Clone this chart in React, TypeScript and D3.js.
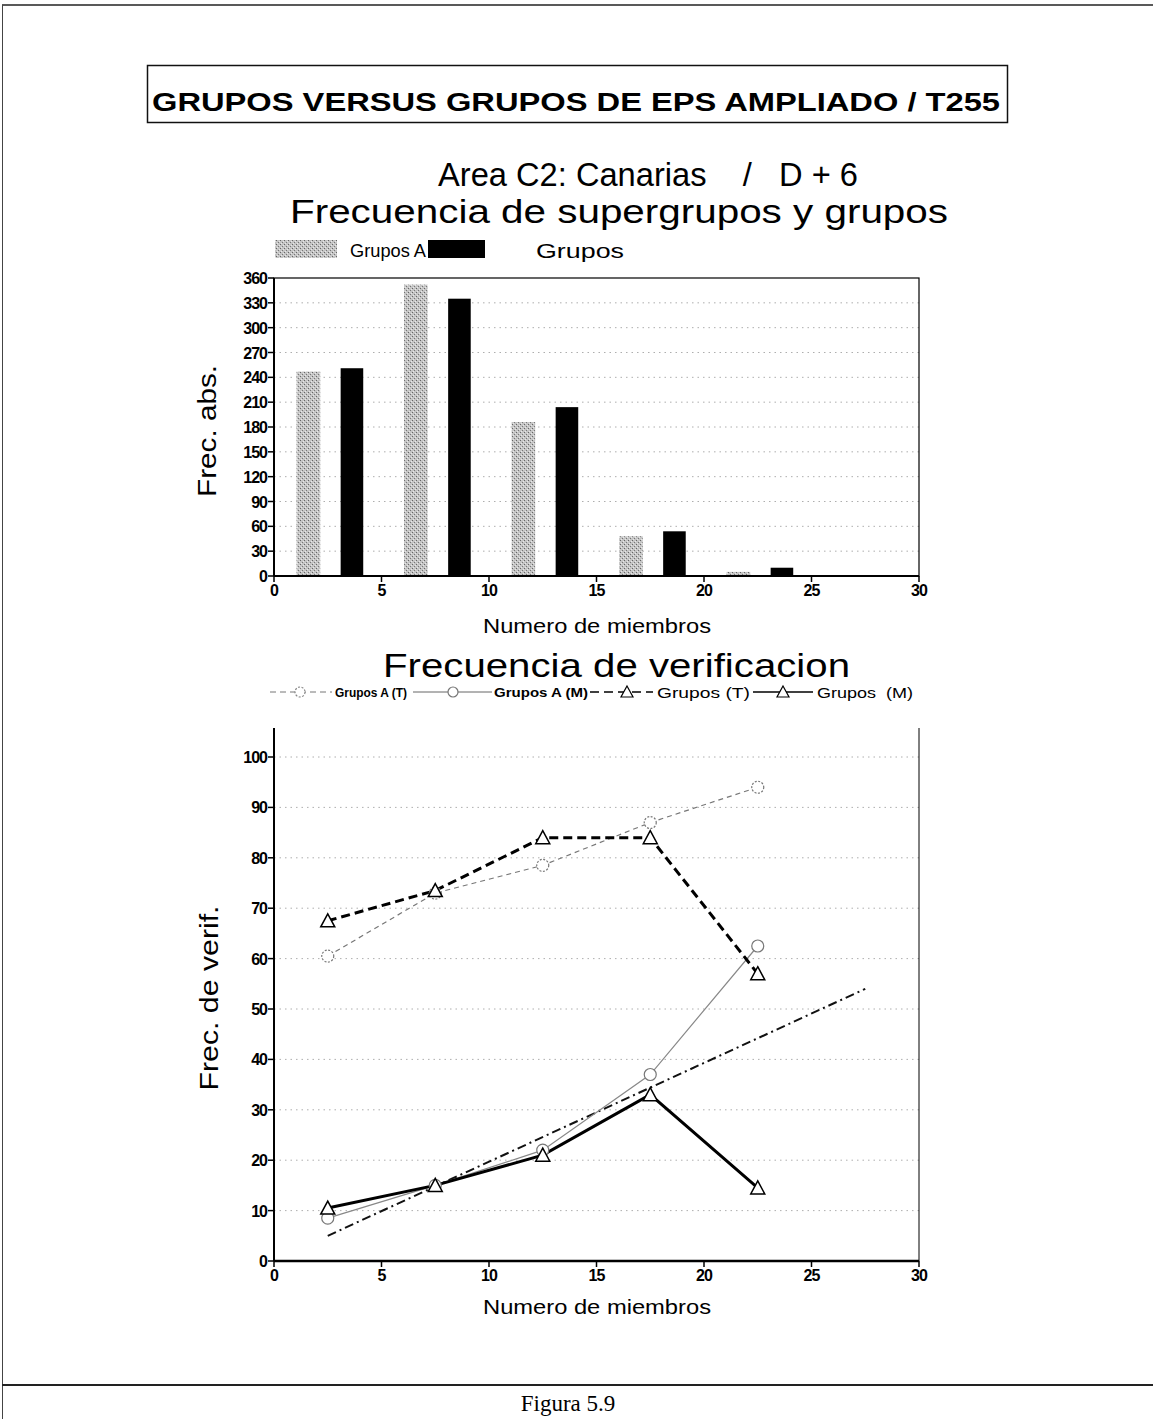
import React from "react";
import * as d3 from "d3";

const barBins = [2.5, 7.5, 12.5, 17.5, 22.5, 27.5];
const gruposA = [247, 352, 186, 48, 5, 0];
const grupos = [251, 335, 204, 54, 10, 0];
const barYTicks = [0, 30, 60, 90, 120, 150, 180, 210, 240, 270, 300, 330, 360];
const xTicks = [0, 5, 10, 15, 20, 25, 30];

const lineX = [2.5, 7.5, 12.5, 17.5, 22.5];
const gaT = [60.5, 73, 78.5, 87, 94];
const gaM = [8.5, 15, 22, 37, 62.5];
const gT = [67.5, 73.5, 84, 84, 57];
const gM = [10.5, 15, 21, 33, 14.5];
const trendX = [2.5, 27.5];
const trendY = [5, 54];
const lineYTicks = [0, 10, 20, 30, 40, 50, 60, 70, 80, 90, 100];

const SANS = "'Liberation Sans', Arial, sans-serif";

export default function App() {
  const W = 1153, H = 1419;
  const bx = d3.scaleLinear().domain([0, 30]).range([274, 919]);
  const by = d3.scaleLinear().domain([0, 360]).range([576, 278]);
  const lx = d3.scaleLinear().domain([0, 30]).range([274, 919]);
  const ly = d3.scaleLinear().domain([0, 100]).range([1261, 757]);

  const line = d3.line<[number, number]>().x(d => lx(d[0])).y(d => ly(d[1]));
  const pts = (ys: number[]) => lineX.map((x, i) => [x, ys[i]] as [number, number]);

  const circle = (x: number, y: number, key: string, stroke: string, dash?: string, r = 6) => (
    <circle key={key} cx={x} cy={y} r={r} fill="white" stroke={stroke} strokeWidth={1.2} strokeDasharray={dash} />
  );
  const tri = (x: number, y: number, key: string, sw: number, s = 7) => (
    <path key={key} d={`M${x},${y - s} L${x + s},${y + s - 1} L${x - s},${y + s - 1} Z`} fill="white" stroke="#000" strokeWidth={sw} />
  );

  return (
    <svg width={W} height={H} style={{ position: "absolute", left: 0, top: 0, background: "white" }}>
      <defs>
        <pattern id="stip" width="4" height="4" patternUnits="userSpaceOnUse">
          <rect width="4" height="4" fill="#c4c4c4" />
          <rect x="0" y="0" width="1" height="1" fill="#666" />
          <rect x="2" y="2" width="1" height="1" fill="#777" />
          <rect x="3" y="1" width="1" height="1" fill="#e8e8e8" />
          <rect x="1" y="3" width="1" height="1" fill="#e8e8e8" />
        </pattern>
      </defs>
      {/* page frame */}
      <line x1={2} y1={5} x2={1153} y2={5} stroke="#222" strokeWidth={1.5} />
      <line x1={2.5} y1={5} x2={2.5} y2={1419} stroke="#444" strokeWidth={1} />
      <line x1={2} y1={1385} x2={1153} y2={1385} stroke="#222" strokeWidth={1.8} />
      <text x={568} y={1411} textAnchor="middle" fontFamily="'Liberation Serif', 'Times New Roman', serif" fontSize={23}>Figura 5.9</text>

      {/* title box */}
      <rect x={147.5} y={65.5} width={860} height={57} fill="none" stroke="#111" strokeWidth={1.5} />
      <text x={152} y={111} fontFamily={SANS} fontWeight="bold" fontSize={25} textLength={848} lengthAdjust="spacingAndGlyphs">GRUPOS VERSUS GRUPOS DE EPS AMPLIADO / T255</text>
      <text x={438} y={186} fontFamily={SANS} fontSize={33} textLength={420} lengthAdjust="spacingAndGlyphs" xmlSpace="preserve">Area C2: Canarias    /   D + 6</text>
      <text x={290} y={223} fontFamily={SANS} fontSize={33} textLength={658} lengthAdjust="spacingAndGlyphs">Frecuencia de supergrupos y grupos</text>

      {/* bar legend */}
      <rect x={275} y={240} width={62} height={18} fill="url(#stip)" />
      <text x={350} y={257} fontFamily={SANS} fontSize={18} textLength={76} lengthAdjust="spacingAndGlyphs">Grupos A</text>
      <rect x={428} y={240} width={57} height={18} fill="#000" />
      <text x={536} y={258} fontFamily={SANS} fontSize={21} textLength={88} lengthAdjust="spacingAndGlyphs">Grupos</text>

      {/* bar chart grid */}
      {barYTicks.filter(t => t > 0 && t < 360).map(t => (
        <line key={"bg" + t} x1={bx(0)} x2={bx(30)} y1={by(t)} y2={by(t)} stroke="#999" strokeWidth={0.8} strokeDasharray="1.5 4" />
      ))}
      {barBins.map((c, i) => (
        <g key={"b" + i}>
          {gruposA[i] > 0 && <rect x={bx(c - 1.45)} y={by(gruposA[i])} width={bx(c - 0.35) - bx(c - 1.45)} height={by(0) - by(gruposA[i])} fill="url(#stip)" />}
          {grupos[i] > 0 && <rect x={bx(c + 0.6)} y={by(grupos[i])} width={bx(c + 1.65) - bx(c + 0.6)} height={by(0) - by(grupos[i])} fill="#000" />}
        </g>
      ))}
      <rect x={bx(0)} y={by(360)} width={bx(30) - bx(0)} height={by(0) - by(360)} fill="none" stroke="#000" strokeWidth={1.2} />
      <line x1={bx(0)} x2={bx(30)} y1={by(0)} y2={by(0)} stroke="#000" strokeWidth={2} />
      <line x1={bx(0)} x2={bx(0)} y1={by(0)} y2={by(360)} stroke="#000" strokeWidth={2} />
      {barYTicks.map(t => (
        <g key={"byt" + t}>
          <line x1={bx(0) - 6} x2={bx(0)} y1={by(t)} y2={by(t)} stroke="#000" strokeWidth={1.5} />
          <text x={bx(0) - 7} y={by(t) + 6} textAnchor="end" fontFamily={SANS} fontWeight="bold" fontSize={16} letterSpacing={-1}>{t}</text>
        </g>
      ))}
      {xTicks.map(t => (
        <g key={"bxt" + t}>
          <line x1={bx(t)} x2={bx(t)} y1={by(0)} y2={by(0) + 6} stroke="#000" strokeWidth={1.5} />
          <text x={bx(t)} y={by(0) + 20} textAnchor="middle" fontFamily={SANS} fontWeight="bold" fontSize={16} letterSpacing={-1}>{t}</text>
        </g>
      ))}
      <text transform={`translate(216,431) rotate(-90)`} textAnchor="middle" fontFamily={SANS} fontSize={26} textLength={132} lengthAdjust="spacingAndGlyphs">Frec. abs.</text>
      <text x={597} y={633} textAnchor="middle" fontFamily={SANS} fontSize={20} textLength={228} lengthAdjust="spacingAndGlyphs">Numero de miembros</text>

      {/* line chart title and legend */}
      <text x={383} y={677} fontFamily={SANS} fontSize={33} textLength={467} lengthAdjust="spacingAndGlyphs">Frecuencia de verificacion</text>
      <g fontFamily={SANS} fontSize={13}>
        <line x1={270} x2={332} y1={692} y2={692} stroke="#777" strokeWidth={1} strokeDasharray="6 4" />
        {circle(300, 692, "lc1", "#888", "2 1.5", 5)}
        <text x={335} y={697} fontWeight="bold" textLength={72} lengthAdjust="spacingAndGlyphs">Grupos A (T)</text>
        <line x1={413} x2={492} y1={692} y2={692} stroke="#666" strokeWidth={1} />
        {circle(453, 692, "lc2", "#777", undefined, 5)}
        <text x={494} y={697} fontWeight="bold" textLength={94} lengthAdjust="spacingAndGlyphs">Grupos A (M)</text>
        <line x1={590} x2={653} y1={692} y2={692} stroke="#000" strokeWidth={1.5} strokeDasharray="9 5" />
        {tri(627, 692, "lt1", 1.2, 6)}
        <text x={657} y={698} fontSize={15} textLength={93} lengthAdjust="spacingAndGlyphs">Grupos  (T)</text>
        <line x1={753} x2={813} y1={692} y2={692} stroke="#000" strokeWidth={1.5} />
        {tri(783, 692, "lt2", 1.2, 6)}
        <text x={817} y={698} fontSize={15} textLength={96} lengthAdjust="spacingAndGlyphs" xmlSpace="preserve">Grupos  (M)</text>
      </g>

      {/* line chart grid */}
      {lineYTicks.filter(t => t > 0).map(t => (
        <line key={"lg" + t} x1={lx(0)} x2={lx(30)} y1={ly(t)} y2={ly(t)} stroke="#999" strokeWidth={0.8} strokeDasharray="1.5 4" />
      ))}
      <line x1={lx(0)} x2={lx(0)} y1={ly(0)} y2={728} stroke="#000" strokeWidth={2} />
      <line x1={lx(30)} x2={lx(30)} y1={ly(0)} y2={728} stroke="#000" strokeWidth={1} />
      <line x1={lx(0)} x2={lx(30)} y1={ly(0)} y2={ly(0)} stroke="#000" strokeWidth={2.5} />
      {lineYTicks.map(t => (
        <g key={"lyt" + t}>
          <line x1={lx(0) - 6} x2={lx(0)} y1={ly(t)} y2={ly(t)} stroke="#000" strokeWidth={1.5} />
          <text x={lx(0) - 7} y={ly(t) + 6} textAnchor="end" fontFamily={SANS} fontWeight="bold" fontSize={16} letterSpacing={-1}>{t}</text>
        </g>
      ))}
      {xTicks.map(t => (
        <g key={"lxt" + t}>
          <line x1={lx(t)} x2={lx(t)} y1={ly(0)} y2={ly(0) + 6} stroke="#000" strokeWidth={1.5} />
          <text x={lx(t)} y={ly(0) + 20} textAnchor="middle" fontFamily={SANS} fontWeight="bold" fontSize={16} letterSpacing={-1}>{t}</text>
        </g>
      ))}
      <text transform={`translate(218,998) rotate(-90)`} textAnchor="middle" fontFamily={SANS} fontSize={26} textLength={185} lengthAdjust="spacingAndGlyphs">Frec. de verif.</text>
      <text x={597} y={1314} textAnchor="middle" fontFamily={SANS} fontSize={20} textLength={228} lengthAdjust="spacingAndGlyphs">Numero de miembros</text>

      {/* series */}
      <path d={line(trendX.map((x, i) => [x, trendY[i]] as [number, number])) || ""} fill="none" stroke="#111" strokeWidth={2} strokeDasharray="9 4 2 4" />
      <path d={line(pts(gaT)) || ""} fill="none" stroke="#777" strokeWidth={1.2} strokeDasharray="5 4" />
      <path d={line(pts(gaM)) || ""} fill="none" stroke="#888" strokeWidth={1.2} />
      <path d={line(pts(gT)) || ""} fill="none" stroke="#000" strokeWidth={3} strokeDasharray="9 5" />
      <path d={line(pts(gM)) || ""} fill="none" stroke="#000" strokeWidth={3} />
      {lineX.map((x, i) => circle(lx(x), ly(gaT[i]), "c1" + i, "#777", "2 1.5"))}
      {lineX.map((x, i) => circle(lx(x), ly(gaM[i]), "c2" + i, "#777"))}
      {lineX.map((x, i) => tri(lx(x), ly(gT[i]), "t1" + i, 1.5))}
      {lineX.map((x, i) => tri(lx(x), ly(gM[i]), "t2" + i, 1.5))}
    </svg>
  );
}
